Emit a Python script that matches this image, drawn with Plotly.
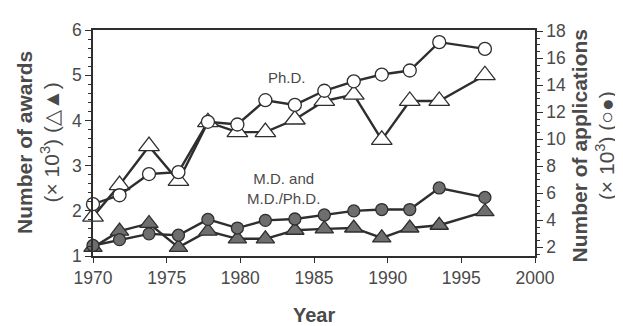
import plotly.graph_objects as go

years = [1970.0, 1971.8, 1973.8, 1975.8, 1977.8, 1979.8, 1981.7, 1983.7,
         1985.7, 1987.7, 1989.6, 1991.5, 1993.5, 1996.6]
phd_awards = [1.87, 2.57, 3.43, 2.66, 3.96, 3.74, 3.74, 4.02, 4.43, 4.57, 3.57, 4.43, 4.43, 5.0]
phd_apps = [5.2, 5.86, 7.43, 7.57, 11.3, 11.1, 12.9, 12.55, 13.6, 14.3, 14.8, 15.1, 17.2, 16.7]
md_apps = [2.14, 2.57, 3.0, 2.9, 4.07, 3.43, 4.0, 4.1, 4.4, 4.7, 4.8, 4.8, 6.4, 5.7]
md_awards = [1.19, 1.55, 1.72, 1.19, 1.55, 1.38, 1.38, 1.57, 1.6, 1.62, 1.4, 1.62, 1.68, 1.98]

x_ticks = [1970, 1975, 1980, 1985, 1990, 1995, 2000]
left_ticks = [1, 2, 3, 4, 5, 6]
right_ticks = [2, 4, 6, 8, 10, 12, 14, 16, 18]

LINE = "#2e2e2e"
GRAY = "#6e6e6e"
TXT = "#4a4a4a"
FONT = "Liberation Sans, Arial, sans-serif"

# page body has an 8px margin; figure is sized to fill the rest
W, H = 615, 318
L, R, T, B = 85, 88, 13, 70
PW, PH = W - L - R, H - T - B

fig = go.Figure()

def add(y, axis, symbol, fill, size):
    fig.add_trace(go.Scatter(
        x=years, y=y, yaxis=axis, mode="lines+markers",
        line=dict(color=LINE, width=2.4),
        marker=dict(symbol=symbol, size=size, color=fill,
                    line=dict(color=LINE, width=1.3)),
        showlegend=False, cliponaxis=False))

add(md_apps, "y2", "circle", GRAY, 12)
add(md_awards, "y", "triangle-up", GRAY, 16)
add(phd_apps, "y2", "circle", "white", 13)
add(phd_awards, "y", "triangle-up", "white", 18)

axis_common = dict(showline=True, linecolor=LINE, linewidth=1.5, ticks="outside",
                   tickcolor=LINE, tickfont=dict(family=FONT, size=17.5, color=TXT),
                   showgrid=False, zeroline=False)

fig.update_layout(
    width=W, height=H,
    margin=dict(l=L, r=R, t=T, b=B),
    paper_bgcolor="white", plot_bgcolor="white",
    xaxis=dict(range=[1970, 2000], tickvals=x_ticks, mirror=True, ticklen=5,
               **axis_common),
    yaxis=dict(range=[1, 6], tickvals=left_ticks, ticklen=6,
               minor=dict(dtick=0.2, ticks="outside", ticklen=3, tickcolor=LINE),
               **axis_common),
    yaxis2=dict(range=[1.36, 18.1], tickvals=right_ticks, overlaying="y", side="right",
                ticklen=6, minor=dict(dtick=0.5, ticks="outside", ticklen=3, tickcolor=LINE),
                **axis_common),
    annotations=[
        dict(text="Ph.D.", x=1983.2, y=4.96, xref="x", yref="y", showarrow=False,
             font=dict(family=FONT, size=15, color=TXT)),
        dict(text="M.D. and<br>M.D./Ph.D.", x=1982.9, y=2.5, xref="x", yref="y",
             showarrow=False, font=dict(family=FONT, size=15, color=TXT)),
        dict(text="<b>Number of awards</b><br>(× 10<sup>3</sup>) (△▲)", textangle=-90,
             x=(30 - L) / PW, y=0.5, xref="paper", yref="paper", showarrow=False,
             xanchor="center", yanchor="middle",
             font=dict(family=FONT, size=21, color=TXT)),
        dict(text="<b>Number of applications</b><br>(× 10<sup>3</sup>) (○●)", textangle=-90,
             x=(585 - L) / PW, y=0.485, xref="paper", yref="paper", showarrow=False,
             xanchor="center", yanchor="middle",
             font=dict(family=FONT, size=21, color=TXT)),
        dict(text="<b>Year</b>", x=0.5, y=-(309 - (H - B)) / PH, xref="paper", yref="paper",
             showarrow=False, xanchor="center", yanchor="middle",
             font=dict(family=FONT, size=20, color=TXT)),
    ],
)

fig.write_html("out.html")
